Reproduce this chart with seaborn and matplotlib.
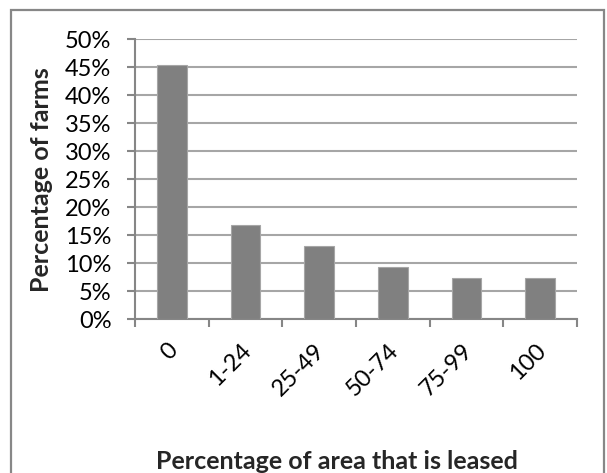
import matplotlib
matplotlib.use("Agg")
import matplotlib.pyplot as plt
import seaborn as sns
import pandas as pd
from matplotlib.patches import Rectangle
from matplotlib.ticker import FuncFormatter
from matplotlib.transforms import ScaledTranslation

categories = ["0", "1-24", "25-49", "50-74", "75-99", "100"]
farm_share = [45.4, 16.8, 13.0, 9.2, 7.3, 7.3]
y_ticks = [0, 5, 10, 15, 20, 25, 30, 35, 40, 45, 50]

sns.set_theme(style="white")
plt.rcParams["font.family"] = ["Lato", "DejaVu Sans"]

df = pd.DataFrame({"lease": categories, "share": farm_share})

fig = plt.figure(figsize=(6.07, 4.73), dpi=100)
ax = fig.add_axes([135 / 607, 1 - 319 / 473, (577 - 135) / 607, (319 - 39) / 473])

# outer chart frame
fig.patches.append(Rectangle((11 / 607, -0.01), (604 - 11) / 607, 1 - 10 / 473 + 0.01,
                             transform=fig.transFigure, fill=False,
                             edgecolor="#878787", linewidth=1.6, zorder=0))

sns.barplot(data=df, x="lease", y="share", ax=ax, color="#808080",
            saturation=1, width=0.4, edgecolor="#a6a6a6", linewidth=0.8, zorder=3)

ax.set_ylim(0, 50)
ax.set_xlim(-0.5, len(categories) - 0.5)
ax.set_yticks(y_ticks)
ax.yaxis.set_major_formatter(FuncFormatter(lambda v, p: f"{v:.0f}%"))
ax.grid(axis="y", color="#a6a6a6", linewidth=1.5, zorder=0)
ax.grid(axis="x", visible=False)

for s in ["top", "right"]:
    ax.spines[s].set_visible(False)
for s in ["left", "bottom"]:
    ax.spines[s].set_color("#868686")
    ax.spines[s].set_linewidth(1.5)

# category ticks between bars
ax.set_xticks([i + 0.5 for i in range(-1, len(categories))], minor=True)
ax.set_xticks(range(len(categories)))
ax.tick_params(axis="x", which="major", bottom=True, length=0, pad=9)
ax.tick_params(axis="x", which="minor", bottom=True, length=6, width=1.5,
               color="#868686", direction="out")
ax.tick_params(axis="y", left=True, length=6, width=1.5, color="#868686", direction="out",
               labelsize=17, labelcolor="black", pad=11)
ax.set_xticklabels(categories, rotation=45, ha="right", rotation_mode="anchor",
                   fontsize=17, color="black")
for lab in ax.get_xticklabels():
    lab.set_transform(lab.get_transform() + ScaledTranslation(-5 / 100, -8 / 100, fig.dpi_scale_trans))

ax.set_xlabel("")
ax.set_ylabel("")
fig.text(42 / 607, 1 - 180 / 473, "Percentage of farms", rotation=90, ha="center",
         va="center", fontsize=18, fontweight="bold")
fig.text(337 / 607, 1 - 461 / 473, "Percentage of area that is leased", ha="center",
         va="center", fontsize=18, fontweight="bold")

fig.savefig("out.png", dpi=100)
